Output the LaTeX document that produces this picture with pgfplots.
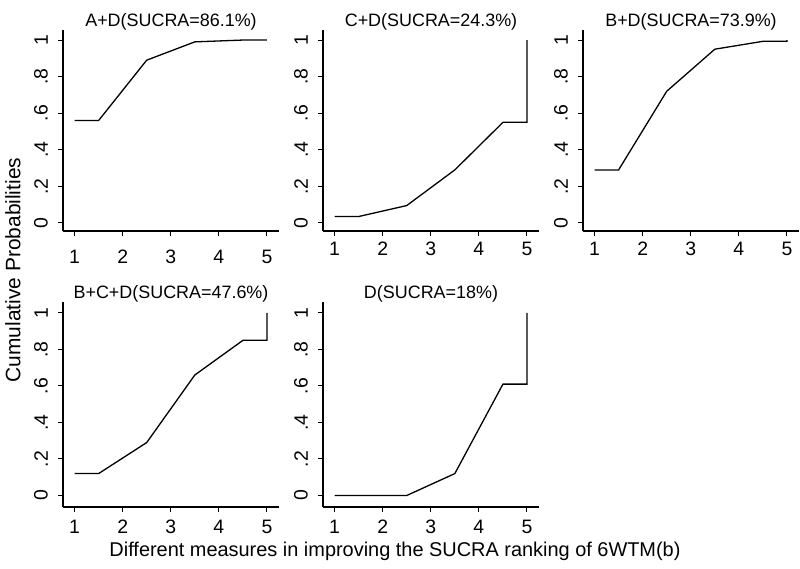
\documentclass[border=0pt]{standalone}
\usepackage{fontspec}
\setmainfont{Liberation Sans}
\usepackage{pgfplots}
\pgfplotsset{compat=1.18}
\newcommand{\tickfont}{\fontsize{19.5}{20}\selectfont}
\pgfplotsset{
 panel/.style={
  scale only axis, width=216bp,
  xmin=0.76, xmax=5.25,
  axis x line*=bottom, axis y line*=left,
  axis line style={-, line width=1.3bp},
  xtick={1,2,3,4,5}, ytick={0,0.2,0.4,0.6,0.8,1},
  xticklabels={1,2,3,4,5},
  yticklabels={0,.2,.4,.6,.8,1},
  tick align=outside, major tick length=5bp,
  every tick/.style={black, line width=1bp},
  xticklabel style={font=\tickfont, anchor=north, inner sep=0pt},
  yticklabel style={font=\tickfont, rotate=90, anchor=south, inner sep=0pt, yshift=10bp},
  title style={font=\fontsize{18}{18}\selectfont, anchor=south, inner sep=3bp, yshift=-9bp},
  anchor=south west,
 },
 row1/.style={panel, height=201bp, ymin=-0.044, ymax=1.055},
 row2/.style={panel, height=205bp, ymin=-0.063, ymax=1.06, xticklabel style={yshift=-8bp}},
 curve/.style={black, line width=1.3bp, mark=none},
}
\begin{document}
\begin{tikzpicture}[x=1bp,y=1bp]
\useasboundingbox (0,0) rectangle (800,569);
\begin{axis}[row1, at={(63bp,338bp)}, title={A+D(SUCRA=86.1\%)}, xticklabel style={yshift=-14bp}]
\addplot[curve] coordinates {(1,0.56) (1.5,0.56) (2.5,0.89) (3.5,0.99) (4.5,1) (5,1)};
\end{axis}
\begin{axis}[row1, at={(323bp,338bp)}, title={C+D(SUCRA=24.3\%)}, xticklabel style={yshift=-6bp}]
\addplot[curve] coordinates {(1,0.035) (1.5,0.035) (2.5,0.095) (3.5,0.29) (4.5,0.55) (5,0.55) (5,1)};
\end{axis}
\begin{axis}[row1, at={(583bp,338bp)}, title={B+D(SUCRA=73.9\%)}, xticklabel style={yshift=-6bp}]
\addplot[curve] coordinates {(1,0.29) (1.5,0.29) (2.5,0.72) (3.5,0.95) (4.5,0.993) (5,0.993) (5,1)};
\end{axis}
\begin{axis}[row2, at={(63bp,62bp)}, title={B+C+D(SUCRA=47.6\%)}]
\addplot[curve] coordinates {(1,0.12) (1.5,0.12) (2.5,0.29) (3.5,0.66) (4.5,0.85) (5,0.85) (5,1)};
\end{axis}
\begin{axis}[row2, at={(323bp,62bp)}, title={D(SUCRA=18\%)}]
\addplot[curve] coordinates {(1,0) (1.5,0) (2.5,0) (3.5,0.12) (4.5,0.61) (5,0.61) (5,1)};
\end{axis}
\node[anchor=base, font=\fontsize{20}{20}\selectfont, inner sep=0pt] at (395,12) {Different measures in improving the SUCRA ranking of 6WTM(b)};
\node[rotate=90, font=\fontsize{21}{21}\selectfont, inner sep=0pt] at (13,299) {Cumulative Probabilities};
\end{tikzpicture}
\end{document}
